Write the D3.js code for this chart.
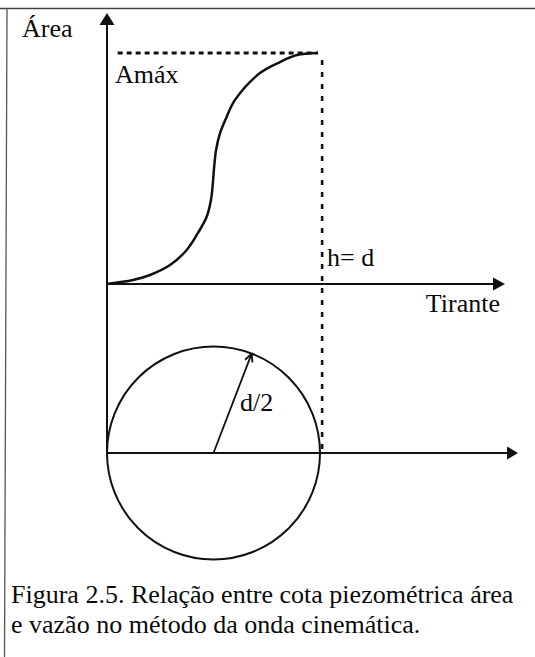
<!DOCTYPE html>
<html>
<head>
<meta charset="utf-8">
<script src="https://cdn.jsdelivr.net/npm/d3@7"></script>
<style>
  body { margin: 0; background: #fff; }
  text { font-family: "Liberation Serif", "Times New Roman", serif; fill: #0a0a0a; }
</style>
</head>
<body>
<svg id="chart" width="535" height="657"></svg>
<script>
// Curve: tirante (h/d) against area (A/Amax)
let tirante = [0, 0.122, 0.202, 0.296, 0.374, 0.427, 0.468, 0.488, 0.497, 0.503, 0.512, 0.531, 0.562, 0.601, 0.718, 0.812, 0.892, 0.991];
let area    = [0, 0.017, 0.039, 0.082, 0.147, 0.221, 0.291, 0.364, 0.437, 0.506, 0.58, 0.654, 0.724, 0.797, 0.913, 0.961, 0.991, 1.0];

// Labels
let yLabel = "Área";
let maxLabel = "Amáx";
let hLabel = "h= d";
let xLabel = "Tirante";
let radiusLabel = "d/2";
let caption = ["Figura 2.5. Relação entre cota piezométrica área", "e vazão no método da onda cinemática."];

let svg = d3.select("#chart");

// scales: x shared by both panels, y only for the upper one
let x = d3.scaleLinear().domain([0, 1]).range([107, 320]);
let y = d3.scaleLinear().domain([0, 1]).range([284, 53]);
let yCircle = 453; // axis of the lower panel

// scan frame (top and left edge only)
svg.append("line")
  .attr("x1", 0).attr("y1", 8.5).attr("x2", 535).attr("y2", 8.5)
  .attr("stroke", "#444").attr("stroke-width", 1.5);
svg.append("line")
  .attr("x1", 7).attr("y1", 8).attr("x2", 4.5).attr("y2", 657)
  .attr("stroke", "#555").attr("stroke-width", 1.3);

// dashed line at Amax and dotted line at h = d
svg.append("line")
  .attr("x1", x(0.05)).attr("y1", y(1)).attr("x2", x(0.99)).attr("y2", y(1))
  .attr("stroke", "#111").attr("stroke-width", 2.8)
  .attr("stroke-dasharray", "5,4");
svg.append("line")
  .attr("x1", x(1.01)).attr("y1", y(0.97)).attr("x2", x(1.01)).attr("y2", yCircle)
  .attr("stroke", "#111").attr("stroke-width", 2.6)
  .attr("stroke-dasharray", "5,7");

// axes
let axisColor = "#111";
svg.append("line")
  .attr("x1", x(0)).attr("y1", 22).attr("x2", x(0)).attr("y2", yCircle)
  .attr("stroke", axisColor).attr("stroke-width", 2);
svg.append("line")
  .attr("x1", x(0)).attr("y1", y(0)).attr("x2", 496).attr("y2", y(0))
  .attr("stroke", axisColor).attr("stroke-width", 2);
svg.append("line")
  .attr("x1", x(0)).attr("y1", yCircle).attr("x2", 510).attr("y2", yCircle)
  .attr("stroke", axisColor).attr("stroke-width", 2);

// arrowheads
function arrowHead(tx, ty, angle, len, half) {
  let p = d3.path();
  p.moveTo(0, 0);
  p.lineTo(-len, -half);
  p.lineTo(-len, half);
  p.closePath();
  svg.append("path")
    .attr("d", p.toString())
    .attr("transform", `translate(${tx},${ty}) rotate(${angle})`)
    .attr("fill", axisColor);
}
arrowHead(x(0), 13, -90, 12, 7.5);
arrowHead(505, y(0), 0, 12, 6.5);
arrowHead(518, yCircle, 0, 11, 6.5);

// area curve
let pts = tirante.map((t, i) => [t, area[i]]);
let line = d3.line()
  .x(d => x(d[0]))
  .y(d => y(d[1]))
  .curve(d3.curveCatmullRom.alpha(0.5));
svg.append("path")
  .datum(pts)
  .attr("d", line)
  .attr("fill", "none")
  .attr("stroke", "#111")
  .attr("stroke-width", 2.5);

// circular section in the lower panel
let r = x(0.5) - x(0);
svg.append("circle")
  .attr("cx", x(0.5)).attr("cy", yCircle).attr("r", r)
  .attr("fill", "none").attr("stroke", "#111").attr("stroke-width", 2);

// radius arrow
let ang = -69 * Math.PI / 180;
let ex = x(0.5) + r * Math.cos(ang);
let ey = yCircle + r * Math.sin(ang);
svg.append("line")
  .attr("x1", x(0.5)).attr("y1", yCircle).attr("x2", ex).attr("y2", ey)
  .attr("stroke", "#111").attr("stroke-width", 1.8);
let a = Math.atan2(ey - yCircle, ex - x(0.5));
[0.45, -0.45].forEach(function(da) {
  svg.append("line")
    .attr("x1", ex).attr("y1", ey)
    .attr("x2", ex - 9 * Math.cos(a + da)).attr("y2", ey - 9 * Math.sin(a + da))
    .attr("stroke", "#111").attr("stroke-width", 1.8);
});

// texts
let fs = 26;
svg.append("text").attr("x", 22).attr("y", 37).attr("font-size", fs).text(yLabel);
svg.append("text").attr("x", 115).attr("y", 83).attr("font-size", fs).text(maxLabel);
svg.append("text").attr("x", 327).attr("y", 266).attr("font-size", fs).text(hLabel);
svg.append("text").attr("x", 500).attr("y", 312).attr("font-size", fs)
  .attr("text-anchor", "end").text(xLabel);
svg.append("text").attr("x", 240).attr("y", 411).attr("font-size", fs).text(radiusLabel);

svg.selectAll("text.caption")
  .data(caption)
  .join("text")
  .attr("class", "caption")
  .attr("x", 11)
  .attr("y", (d, i) => 603 + i * 30)
  .attr("font-size", fs)
  .text(d => d);
</script>
</body>
</html>
